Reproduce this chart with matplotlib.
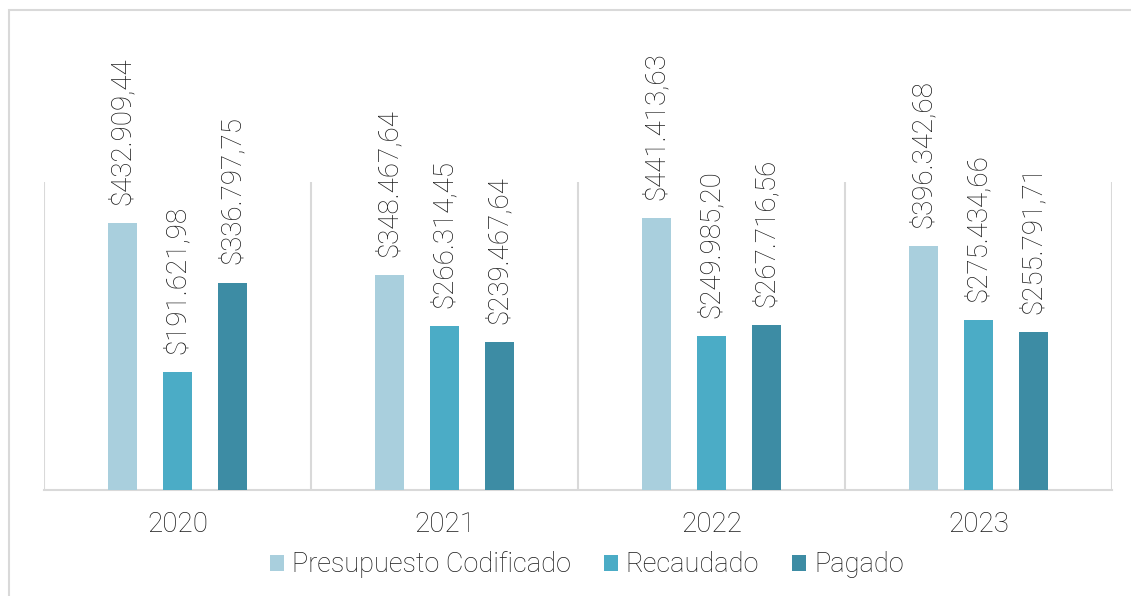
import matplotlib.pyplot as plt
from matplotlib.patches import Rectangle
import numpy as np

plt.rcParams["font.family"] = ["Roboto", "DejaVu Sans"]

years = ["2020", "2021", "2022", "2023"]
series_names = ["Presupuesto Codificado", "Recaudado", "Pagado"]
presupuesto = [432909.44, 348467.64, 441413.63, 396342.68]
recaudado = [191621.98, 266314.45, 249985.20, 275434.66]
pagado = [336797.75, 239467.64, 267716.56, 255791.71]
colors = ["#A9CFDD", "#4BACC6", "#3D8CA4"]


def fmt(v):
    s = f"{v:,.2f}"
    s = s.replace(",", "X").replace(".", ",").replace("X", ".")
    return "$" + s


W, H = 1131, 596
FS = 20
fig = plt.figure(figsize=(W / 100, H / 100), dpi=100)
ax = fig.add_axes([44 / W, 1 - 490 / H, (1112 - 44) / W, (490 - 182) / H])

# outer frame (cropped on right and bottom in the original)
fig.patches.append(Rectangle((9 / W, -0.05), 1.2, (H - 10) / H + 0.05,
                             transform=fig.transFigure, fill=False,
                             edgecolor="#D9D9D9", linewidth=1.5))

x = np.arange(len(years))
width = 0.109
step = 0.206
for i, (vals, name, c) in enumerate(zip([presupuesto, recaudado, pagado], series_names, colors)):
    pos = x + (i - 1) * step
    ax.bar(pos, vals, width=width, color=c, label=name, zorder=3)
    for p, v in zip(pos, vals):
        ax.annotate(fmt(v), (p, v), xytext=(0, 13), textcoords="offset points",
                    rotation=90, ha="center", va="bottom", fontsize=FS,
                    fontweight="light", color="#1a1a1a", annotation_clip=False)

ax.set_xlim(-0.5, len(years) - 0.5)
ax.set_ylim(0, 500000)
ax.set_xticks(x)
ax.set_xticklabels(years, fontsize=FS, fontweight="light", color="#1a1a1a")
ax.tick_params(axis="x", length=0, pad=15)
ax.set_yticks([])
for s in ["top", "right", "left"]:
    ax.spines[s].set_visible(False)
ax.spines["bottom"].set_color("#D9D9D9")
ax.spines["bottom"].set_linewidth(1.5)
for b in np.arange(len(years) + 1) - 0.5:
    ax.axvline(b, color="#D9D9D9", linewidth=1.5, zorder=1)

leg = fig.legend(loc="center", bbox_to_anchor=(587 / W, 1 - 565 / H), ncol=3,
                 frameon=False, handlelength=0.5, handleheight=0.5,
                 handletextpad=0.3, columnspacing=1.22,
                 prop={"size": 19.5, "weight": "light"})
for t in leg.get_texts():
    t.set_color("#1a1a1a")

fig.savefig("out.png", dpi=100, facecolor="white")
